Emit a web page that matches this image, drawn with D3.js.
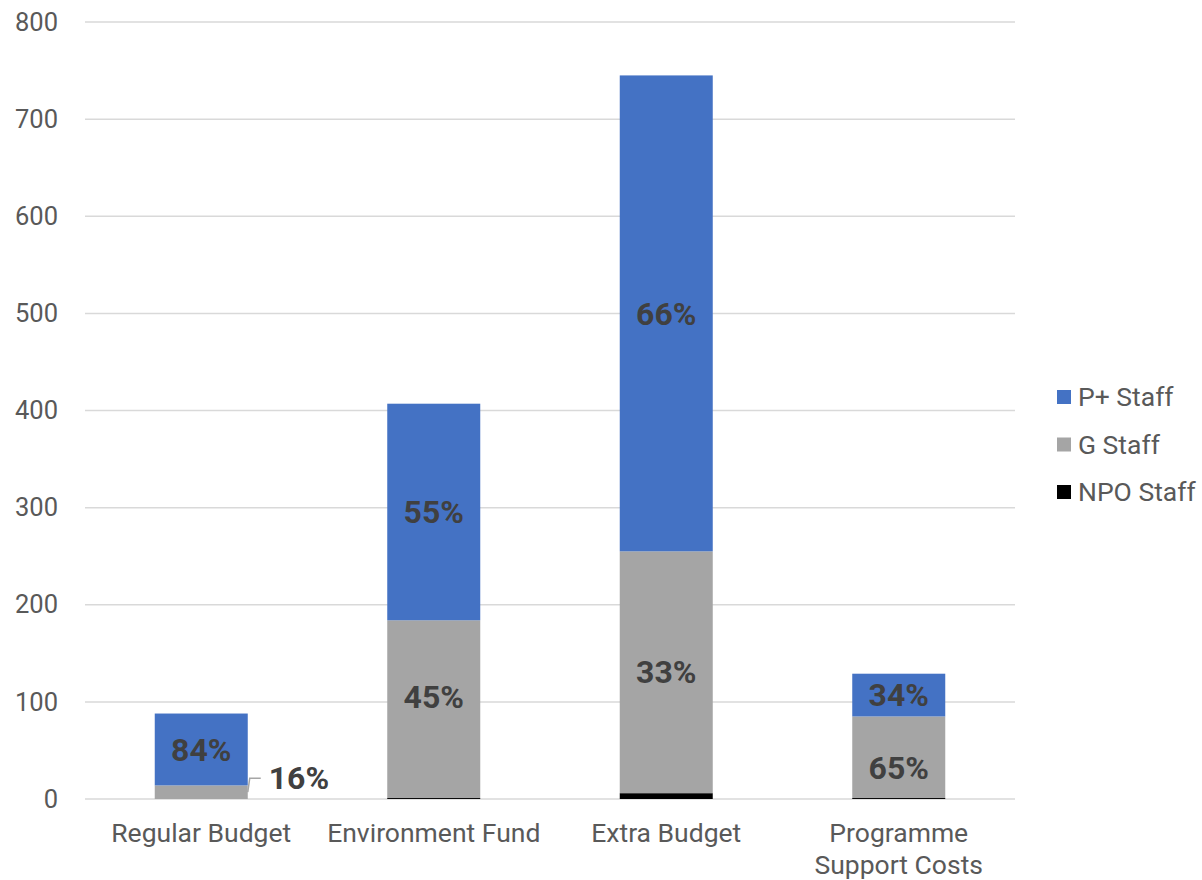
<!DOCTYPE html>
<html>
<head>
<meta charset="utf-8">
<script src="https://cdn.jsdelivr.net/npm/d3@7"></script>
<style>
  html, body { margin: 0; padding: 0; background: #fff; }
  svg { display: block; font-family: Roboto, "Noto Sans", sans-serif; }
</style>
</head>
<body>
<svg id="chart" width="1202" height="880"></svg>
<script>
// Staff counts by funding source
const categories = ["Regular Budget", "Environment Fund", "Extra Budget", "Programme Support Costs"];
const seriesNames = ["NPO Staff", "G Staff", "P+ Staff"];
const npoStaff = [0, 1, 6, 1];
const gStaff = [14, 183, 249, 84];
const pStaff = [74, 223, 490, 44];
const yTicks = [0, 100, 200, 300, 400, 500, 600, 700, 800];
const legendOrder = ["P+ Staff", "G Staff", "NPO Staff"];

const colors = { "P+ Staff": "#4472C4", "G Staff": "#A5A5A5", "NPO Staff": "#000000" };

const rows = categories.map((c, i) => ({
  category: c,
  "NPO Staff": npoStaff[i],
  "G Staff": gStaff[i],
  "P+ Staff": pStaff[i]
}));

const svg = d3.select("#chart");
const margin = { left: 85, right: 187, top: 22, bottom: 81 };
const W = 1202, H = 880;

const x = d3.scaleBand()
  .domain(categories)
  .range([margin.left, W - margin.right])
  .paddingInner(0.6)
  .paddingOuter(0.3);

const y = d3.scaleLinear()
  .domain([0, 800])
  .range([H - margin.bottom, margin.top]);

// gridlines
svg.append("g")
  .selectAll("line")
  .data(yTicks)
  .join("line")
  .attr("x1", margin.left)
  .attr("x2", W - margin.right)
  .attr("y1", d => y(d))
  .attr("y2", d => y(d))
  .attr("stroke", "#d9d9d9")
  .attr("stroke-width", 1.5);

// y axis labels
const yAxis = d3.axisLeft(y).tickValues(yTicks).tickSize(0).tickPadding(0);
const yg = svg.append("g")
  .attr("transform", `translate(${margin.left - 27},0)`)
  .call(yAxis);
yg.select(".domain").remove();
yg.selectAll("text")
  .attr("fill", "#595959")
  .style("font-size", "25.5px")
  .style("font-family", "Roboto, sans-serif");

// stacked bars
const stack = d3.stack().keys(seriesNames);
const stacked = stack(rows);

const totals = rows.map(r => seriesNames.reduce((s, k) => s + r[k], 0));

svg.append("g")
  .selectAll("g")
  .data(stacked)
  .join("g")
  .attr("fill", d => colors[d.key])
  .selectAll("rect")
  .data(d => d)
  .join("rect")
  .attr("x", d => x(d.data.category))
  .attr("width", x.bandwidth())
  .attr("y", d => y(d[1]))
  .attr("height", d => y(d[0]) - y(d[1]));

// percentage labels (a few nudged off-centre)
const labelNudge = {
  "Environment Fund|G Staff": -12,
  "Programme Support Costs|G Staff": 11
};
const labelLayer = svg.append("g")
  .attr("fill", "#404040")
  .style("font-weight", "bold")
  .style("font-size", "32px");

stacked.forEach(layer => {
  if (layer.key === "NPO Staff") return;
  layer.forEach((d, i) => {
    const pct = Math.round(100 * (d[1] - d[0]) / totals[i]) + "%";
    const cx = x(d.data.category) + x.bandwidth() / 2;
    const cy = (y(d[0]) + y(d[1])) / 2 + (labelNudge[d.data.category + "|" + layer.key] || 0);
    const segH = y(d[0]) - y(d[1]);
    if (segH < 20) {
      // small segment: label placed to the right with a leader line
      const x0 = x(d.data.category) + x.bandwidth();
      const ly = cy - 14;
      labelLayer.append("polyline")
        .attr("points", `${x0},${cy} ${x0 + 2},${ly} ${x0 + 13},${ly}`)
        .attr("fill", "none")
        .attr("stroke", "#a6a6a6")
        .attr("stroke-width", 1.5);
      labelLayer.append("text")
        .attr("x", x0 + 21)
        .attr("y", ly)
        .attr("dy", "0.35em")
        .text(pct);
    } else {
      labelLayer.append("text")
        .attr("x", cx)
        .attr("y", cy)
        .attr("dy", "0.35em")
        .attr("text-anchor", "middle")
        .text(pct);
    }
  });
});

// category labels
const xg = svg.append("g").attr("fill", "#595959").style("font-size", "26.5px");
const wrapped = {
  "Programme Support Costs": ["Programme", "Support Costs"]
};
categories.forEach(c => {
  const lines = wrapped[c] || [c];
  const t = xg.append("text")
    .attr("x", x(c) + x.bandwidth() / 2)
    .attr("y", H - margin.bottom + 43)
    .attr("text-anchor", "middle");
  lines.forEach((ln, i) => {
    t.append("tspan")
      .attr("x", x(c) + x.bandwidth() / 2)
      .attr("dy", i === 0 ? 0 : 32)
      .text(ln);
  });
});

// legend
const legend = svg.append("g").attr("transform", "translate(1057,397)");
legendOrder.forEach((name, i) => {
  const g = legend.append("g").attr("transform", `translate(0,${i * 47.5})`);
  g.append("rect")
    .attr("x", 0)
    .attr("y", -7)
    .attr("width", 14)
    .attr("height", 14)
    .attr("fill", colors[name]);
  g.append("text")
    .attr("x", 21)
    .attr("y", 0)
    .attr("dy", "0.35em")
    .attr("fill", "#595959")
    .style("font-size", "26.5px")
    .text(name);
});
</script>
</body>
</html>
